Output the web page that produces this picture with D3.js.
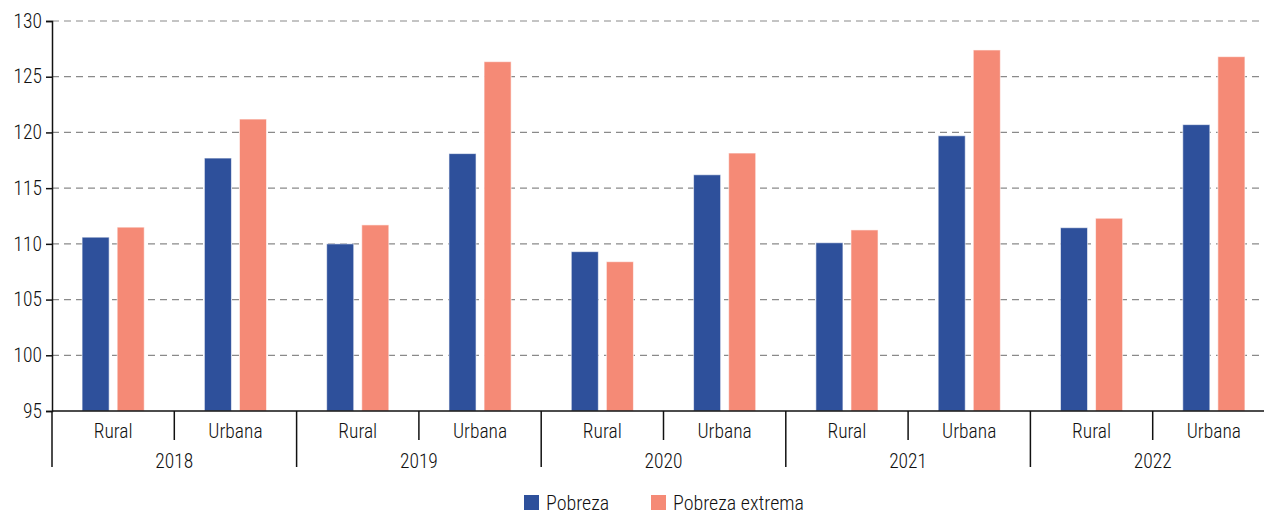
<!DOCTYPE html>
<html>
<head>
<meta charset="utf-8">
<script src="https://cdn.jsdelivr.net/npm/d3@7"></script>
<style>
  body { margin: 0; background: #fff; }
  svg text { font-family: "Roboto Condensed", "Liberation Sans Narrow", "DejaVu Sans Condensed", Roboto, sans-serif; font-stretch: condensed; font-weight: 300; fill: #111; }
</style>
</head>
<body>
<svg id="chart" width="1264" height="514"></svg>
<script>
// data
var years = ['2018', '2019', '2020', '2021', '2022'];
var areas = ['Rural', 'Urbana'];
var series = ['Pobreza', 'Pobreza extrema'];
var pobreza = [110.6, 117.7, 110.0, 118.1, 109.3, 116.2, 110.1, 119.7, 111.45, 120.7];
var pobrezaExtrema = [111.5, 121.2, 111.7, 126.35, 108.4, 118.15, 111.25, 127.4, 112.3, 126.8];
var yTicks = [95, 100, 105, 110, 115, 120, 125, 130];
var colors = ['#2E509B', '#F58A76'];

function drawChart() {
  var svg = d3.select('#chart');
  var mLeft = 52, mRight = 1275, mTop = 21, mBottom = 411;
  var fs = 19.5;

  var y = d3.scaleLinear().domain([95, 130]).range([mBottom, mTop]);

  var x0 = d3.scaleBand().domain(years).range([mLeft, mRight]);
  var x1 = d3.scaleBand().domain(areas).range([0, x0.bandwidth()]);
  var x2 = d3.scaleBand().domain(series).range([0, x1.bandwidth()])
    .paddingInner(0.2286).paddingOuter(0.857);

  // rows for bars
  var rows = [];
  years.forEach(function(yr, i) {
    areas.forEach(function(a, j) {
      var k = i * 2 + j;
      rows.push({ year: yr, area: a, s: series[0], v: pobreza[k], c: colors[0] });
      rows.push({ year: yr, area: a, s: series[1], v: pobrezaExtrema[k], c: colors[1] });
    });
  });

  // grid
  svg.append('g').selectAll('line').data(yTicks.slice(1)).join('line')
    .attr('x1', mLeft).attr('x2', 1264)
    .attr('y1', d => y(d)).attr('y2', d => y(d))
    .attr('stroke', '#8a8a8a').attr('stroke-width', 1.2)
    .attr('stroke-dasharray', '7,5');

  // bars
  svg.append('g').selectAll('rect').data(rows).join('rect')
    .attr('x', d => x0(d.year) + x1(d.area) + x2(d.s))
    .attr('width', x2.bandwidth())
    .attr('y', d => y(d.v))
    .attr('height', d => y(95) - y(d.v))
    .attr('fill', d => d.c)
    .attr('stroke', 'rgba(255,255,255,0.6)').attr('stroke-width', 1);

  // y axis
  var yAxis = svg.append('g').attr('transform', 'translate(' + mLeft + ',0)')
    .call(d3.axisLeft(y).tickValues(yTicks).tickSize(6).tickPadding(4));
  yAxis.attr('font-family', null).attr('font-size', null);
  yAxis.select('.domain').attr('stroke', '#111').attr('stroke-width', 1.5);
  yAxis.selectAll('.tick line').attr('stroke', '#111').attr('stroke-width', 1.5);
  yAxis.selectAll('.tick text').attr('font-size', fs).attr('fill', '#111');

  // x axis baseline
  svg.append('line').attr('x1', mLeft).attr('x2', 1264).attr('y1', mBottom).attr('y2', mBottom)
    .attr('stroke', '#111').attr('stroke-width', 1.5);

  // sub-category separators
  var subSeps = years.map(yr => x0(yr) + x1('Urbana'));
  svg.append('g').selectAll('line').data(subSeps).join('line')
    .attr('x1', d => d).attr('x2', d => d).attr('y1', mBottom).attr('y2', 440)
    .attr('stroke', '#111').attr('stroke-width', 1.5);

  // year separators
  var yearSeps = years.map(yr => x0(yr)).concat([mRight]);
  svg.append('g').selectAll('line').data(yearSeps).join('line')
    .attr('x1', d => d).attr('x2', d => d).attr('y1', mBottom).attr('y2', 467)
    .attr('stroke', '#111').attr('stroke-width', 1.5);

  // sub labels
  var subLabels = [];
  years.forEach(function(yr) {
    areas.forEach(function(a) { subLabels.push({ t: a, x: x0(yr) + x1(a) + x1.bandwidth() / 2 }); });
  });
  svg.append('g').selectAll('text').data(subLabels).join('text')
    .attr('x', d => d.x).attr('y', 438).attr('text-anchor', 'middle')
    .attr('font-size', fs).text(d => d.t);

  svg.append('g').selectAll('text').data(years).join('text')
    .attr('x', d => x0(d) + x0.bandwidth() / 2).attr('y', 468).attr('text-anchor', 'middle')
    .attr('font-size', fs).text(d => d);

  // legend
  var legend = svg.append('g').attr('transform', 'translate(524,495)');
  var lx = [0, 127];
  series.forEach(function(s, i) {
    var g = legend.append('g').attr('transform', 'translate(' + lx[i] + ',0)');
    g.append('rect').attr('width', 15).attr('height', 15).attr('fill', colors[i]);
    g.append('text').attr('x', 22).attr('y', 14.5).attr('font-size', 20).text(s);
  });
}

drawChart();
</script>
</body>
</html>
